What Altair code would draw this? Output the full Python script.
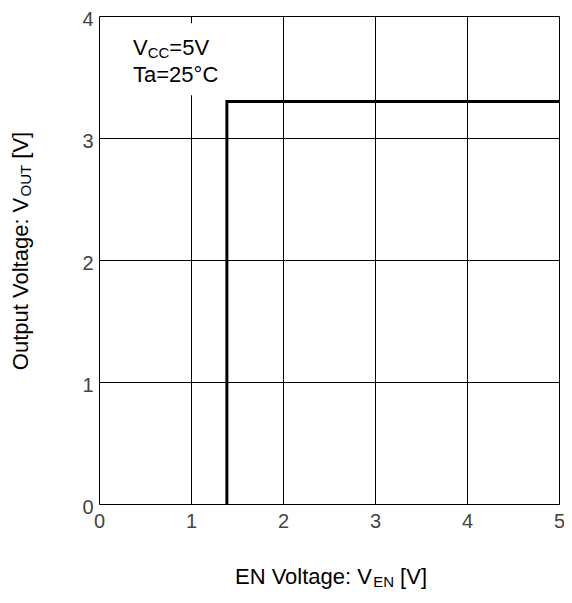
import altair as alt
import pandas as pd

# ---- data ----
x_ticks = [0, 1, 2, 3, 4, 5]
y_ticks = [0, 1, 2, 3, 4]
en_voltage = [1.39, 1.39, 5.0]        # V_EN [V]
out_voltage = [0.0, 3.3, 3.3]         # V_OUT [V]
step_order = [0, 1, 2]

note_x = [0.37]
note_y = [3.68, 3.46]
box_x = [0.38, 1.32]
box_y = [3.35, 3.94]

# ---- styling helpers ----
FONT = "Liberation Sans"
S = 22          # main text size
SUB = 15        # subscript size
ADV = {' ': 278, '[': 278, ']': 278, ':': 278, '=': 584, '°': 400,
       'A': 667, 'C': 722, 'E': 667, 'N': 722, 'O': 778, 'T': 611,
       'U': 722, 'V': 667, 'a': 556, 'e': 556, 'g': 556, 'l': 222,
       'o': 556, 'p': 556, 't': 278, 'u': 556}
for d in "0123456789":
    ADV[d] = 556


def tw(s, size):
    return sum(ADV.get(c, 556) for c in s) * size / 1000.0


def runs(segments):
    """segments: list of (text, is_sub) -> list of (text, size, dx, dy)"""
    out = []
    off = 0.0
    for txt, sub in segments:
        size = SUB if sub else S
        lead = len(txt) - len(txt.lstrip(" "))
        off += tw(" " * lead, size)
        body = txt.lstrip(" ")
        out.append((body, size, off, 3 if sub else 0))
        off += tw(body, size)
    return out, off


W, H = 460, 488

df_step = pd.DataFrame({"x": en_voltage, "y": out_voltage, "o": step_order})
df_box = pd.DataFrame({"x": [box_x[0]], "x2": [box_x[1]], "y": [box_y[0]], "y2": [box_y[1]]})

xs = alt.Scale(domain=[0, 5], nice=False, zero=False)
ys = alt.Scale(domain=[0, 4], nice=False, zero=False)

base_axis = dict(grid=True, gridColor="black", gridOpacity=1, gridWidth=1,
                 domain=False, ticks=False, labelFont=FONT, labelFontSize=20,
                 labelColor="#444444", title=None, labelFlush=False,
                 labelOverlap=False, format="d")

box = alt.Chart(df_box).mark_rect(color="white").encode(
    x=alt.X("x:Q", scale=xs, axis=alt.Axis(values=x_ticks, labelPadding=7, **base_axis)),
    x2="x2:Q",
    y=alt.Y("y:Q", scale=ys, axis=alt.Axis(values=y_ticks, labelPadding=6,
                                           labelOffset=3, **base_axis)),
    y2="y2:Q",
)

step = alt.Chart(df_step).mark_line(color="black", strokeWidth=3, clip=False).encode(
    x=alt.X("x:Q", scale=xs),
    y=alt.Y("y:Q", scale=ys),
    order="o:Q",
)

layers = [box, step]

# annotation: V_CC=5V / Ta=25°C
pieces, _ = runs([("V", False), ("CC", True), ("=5V", False)])
for txt, size, dx, dy in pieces:
    layers.append(alt.Chart().mark_text(
        text=txt, font=FONT, fontSize=size, align="left", baseline="alphabetic",
        dx=dx, dy=dy, color="black").encode(
        x=alt.datum(note_x[0], scale=xs), y=alt.datum(note_y[0], scale=ys)))
layers.append(alt.Chart().mark_text(
    text="Ta=25°C", font=FONT, fontSize=S, align="left", baseline="alphabetic",
    color="black").encode(
    x=alt.datum(note_x[0], scale=xs), y=alt.datum(note_y[1], scale=ys)))

# x axis title: EN Voltage: V_EN [V]
pieces, tot = runs([("EN Voltage: V", False), ("EN", True), (" [V]", False)])
x0 = W / 2 + 2 - tot / 2
for txt, size, dx, dy in pieces:
    layers.append(alt.Chart().mark_text(
        text=txt, font=FONT, fontSize=size, align="left", baseline="alphabetic",
        dx=dx, dy=dy, color="black").encode(
        x=alt.value(x0), y=alt.value(H + 80)))

# y axis title: Output Voltage: V_OUT [V]
pieces, tot = runs([("Output Voltage: V", False), ("OUT", True), (" [V]", False)])
y0 = H / 2 - 9 + tot / 2
for txt, size, dx, dy in pieces:
    layers.append(alt.Chart().mark_text(
        text=txt, font=FONT, fontSize=size, align="left", baseline="alphabetic",
        angle=270, dx=dx, dy=dy, color="black").encode(
        x=alt.value(-71), y=alt.value(y0)))

chart = alt.layer(*layers).properties(
    width=W, height=H,
    autosize=alt.AutoSizeParams(type="none"),
    padding={"left": 91, "top": 8, "right": 5, "bottom": 86},
).configure_view(stroke="black", strokeWidth=3).configure(background="white")

chart.save("out.html", embed_options={"renderer": "svg", "actions": False})
